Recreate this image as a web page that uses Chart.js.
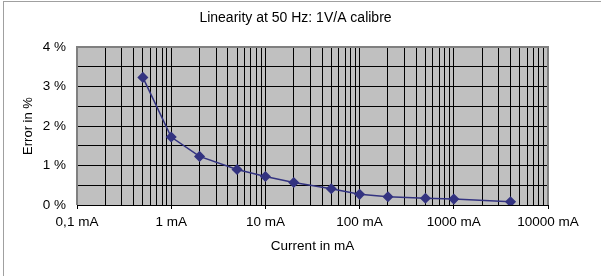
<!DOCTYPE html>
<html>
<head>
<meta charset="utf-8">
<script src="https://cdn.jsdelivr.net/npm/chart.js@4/dist/chart.umd.min.js"></script>
<style>
html,body{margin:0;padding:0;background:#fff;}
#wrap{width:601px;height:276px;position:relative;}
</style>
</head>
<body>
<div id="wrap"><canvas id="c" width="601" height="276"></canvas></div>
<script>
// Data
const currents = [0.5, 1, 2, 5, 10, 20, 50, 100, 200, 500, 1000, 4000];
const errors = [3.23, 1.72, 1.23, 0.90, 0.72, 0.57, 0.41, 0.27, 0.21, 0.17, 0.15, 0.08];
const xMajorTicks = [0.1, 1, 10, 100, 1000, 10000];
const xTickLabels = ['0,1 mA', '1 mA', '10 mA', '100 mA', '1000 mA', '10000 mA'];
const chartTitle = 'Linearity at 50 Hz: 1V/A calibre';
const xTitle = 'Current in mA';
const yTitle = 'Error in %';

const FONT = "'Liberation Sans', Arial, sans-serif";
const isMajor = v => xMajorTicks.some(m => Math.abs(Math.log10(v) - Math.log10(m)) < 1e-6);

const bgPlugin = {
  id: 'bg',
  beforeDraw(chart) {
    const {ctx, chartArea: a} = chart;
    ctx.save();
    ctx.strokeStyle = '#a0a0a0';
    ctx.lineWidth = 1;
    ctx.strokeRect(3.5, 1.5, 700, 400);
    ctx.fillStyle = '#c0c0c0';
    ctx.fillRect(a.left, a.top, a.right - a.left, a.bottom - a.top);
    ctx.restore();
  },
  beforeDatasetsDraw(chart) {
    const {ctx, chartArea: a} = chart;
    ctx.save();
    ctx.strokeStyle = '#808080';
    ctx.lineWidth = 2;
    ctx.beginPath();
    ctx.moveTo(a.left, a.bottom);
    ctx.lineTo(a.left, a.top);
    ctx.lineTo(a.right, a.top);
    ctx.lineTo(a.right, a.bottom);
    ctx.stroke();
    ctx.strokeStyle = '#000';
    ctx.lineWidth = 1;
    ctx.beginPath();
    ctx.moveTo(a.left, a.bottom + 0.5);
    ctx.lineTo(a.right, a.bottom + 0.5);
    ctx.stroke();
    ctx.restore();
  }
};

new Chart(document.getElementById('c'), {
  type: 'line',
  data: {
    datasets: [{
      data: currents.map((x, i) => ({x: x, y: errors[i]})),
      borderColor: '#333380',
      backgroundColor: '#333380',
      borderWidth: 1.5,
      pointStyle: 'rectRot',
      pointRadius: 4.5,
      pointHoverRadius: 4.5,
      tension: 0,
      fill: false
    }]
  },
  plugins: [bgPlugin],
  options: {
    responsive: false,
    animation: false,
    events: [],
    layout: {padding: {left: 0, right: 10, top: 0, bottom: 0}},
    plugins: {
      legend: {display: false},
      tooltip: {enabled: false},
      title: {
        display: true,
        text: chartTitle,
        color: '#000',
        font: {family: FONT, size: 14, weight: 'normal'},
        padding: {top: 9.6, bottom: 20.6}
      }
    },
    scales: {
      x: {
        type: 'logarithmic',
        min: 0.1,
        max: 10000,
        afterFit(s) { s.height = 71; },
        afterBuildTicks(s) {
          const t = [];
          for (let p = -1; p <= 3; p++) {
            for (let k = 1; k <= 9; k++) t.push(k * Math.pow(10, p));
          }
          t.push(10000);
          s.ticks = t.map(v => ({value: v, major: isMajor(v)}));
        },
        ticks: {
          autoSkip: false,
          maxRotation: 0,
          padding: 5,
          color: '#000',
          font: {family: FONT, size: 13.5},
          callback(v) {
            const i = xMajorTicks.findIndex(m => Math.abs(Math.log10(v) - Math.log10(m)) < 1e-6);
            return i >= 0 ? xTickLabels[i] : '';
          }
        },
        grid: {
          color: '#000',
          lineWidth: 1,
          drawTicks: true,
          tickLength: 4,
          tickColor: c => (c.tick && isMajor(c.tick.value)) ? '#000' : 'rgba(0,0,0,0)'
        },
        border: {display: false},
        title: {
          display: true,
          text: xTitle,
          color: '#000',
          font: {family: FONT, size: 13.5},
          padding: {top: 0, bottom: 21.9}
        }
      },
      y: {
        min: 0,
        max: 4,
        afterFit(s) { s.width = 77; },
        ticks: {
          stepSize: 0.5,
          padding: 11,
          color: '#000',
          font: {family: FONT, size: 13.5},
          callback: v => Number.isInteger(v) ? v + ' %' : ''
        },
        grid: {color: '#000', lineWidth: 1, drawTicks: false},
        border: {display: false},
        title: {
          display: true,
          text: yTitle,
          color: '#000',
          font: {family: FONT, size: 13},
          padding: {top: 20.2, bottom: 0}
        }
      },
      yRight: {
        type: 'linear',
        position: 'right',
        display: true,
        afterFit(s) { s.width = 43; },
        grid: {display: false, drawTicks: false},
        border: {display: false},
        ticks: {display: false}
      }
    }
  }
});
</script>
</body>
</html>
